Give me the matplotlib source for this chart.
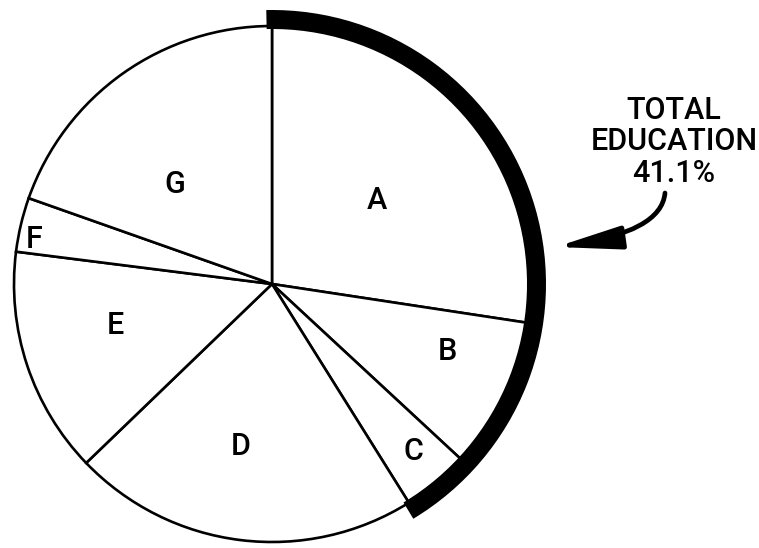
import matplotlib
matplotlib.use("Agg")
import matplotlib.pyplot as plt
import numpy as np
from matplotlib.patches import Wedge, FancyArrowPatch

categories = ["A", "B", "C", "D", "E", "F", "G"]
values = [27.4, 9.5, 4.2, 21.7, 14.2, 3.4, 19.6]
education = ["A", "B", "C"]

# label placement style (radius fraction, angle offset from wedge middle, degrees)
label_r = [0.52, 0.73, 0.85, 0.64, 0.63, 0.94, 0.54]
label_dang = [-2.2, 4.7, 0.4, -4.0, -3.5, 2.7, 9.2]

FONT = dict(family=["Roboto", "DejaVu Sans"], weight="medium")

W, H = 759, 548
cx, cy, R = 272, 284, 258


def px(x, y):
    return ((x - cx) / R, (cy - y) / R)


fig = plt.figure(figsize=(W / 100, H / 100), dpi=100)
ax = fig.add_axes([0, 0, 1, 1])

wedges, _ = ax.pie(values, startangle=90, counterclock=False, radius=1,
                   wedgeprops=dict(facecolor="white", edgecolor="black", linewidth=1.9),
                   center=(0, 0), frame=True)
ax.set_xlim(-cx / R, (W - cx) / R)
ax.set_ylim(-(H - cy) / R, cy / R)
ax.set_aspect("auto")
ax.axis("off")

for w, lab, rf, da in zip(wedges, categories, label_r, label_dang):
    mid = np.deg2rad((w.theta1 + w.theta2) / 2 + da)
    ax.text(rf * np.cos(mid), rf * np.sin(mid), lab, ha="center", va="center",
            fontsize=22, **FONT)

# thick arc for total education
edu_total = sum(v for c, v in zip(categories, values) if c in education)
t1 = 90 - 360 * edu_total / 100 - 1.0
arc = Wedge((0, 0), 274 / R, t1, 91.2, width=19 / R, facecolor="black", edgecolor="none")
ax.add_patch(arc)

tx, ty = px(674, 142)
ax.text(tx, ty, f"TOTAL\nEDUCATION\n{edu_total:.1f}%", ha="center", va="center",
        fontsize=22, linespacing=1.1, **FONT)

arrow = FancyArrowPatch(px(665, 193), px(556, 247),
                        arrowstyle="-|>,head_length=2.8,head_width=0.5",
                        connectionstyle="angle3,angleA=-95,angleB=8", color="black",
                        lw=3.4, mutation_scale=14, shrinkA=0, shrinkB=0)
ax.add_patch(arrow)

fig.savefig("out.png", dpi=100)
